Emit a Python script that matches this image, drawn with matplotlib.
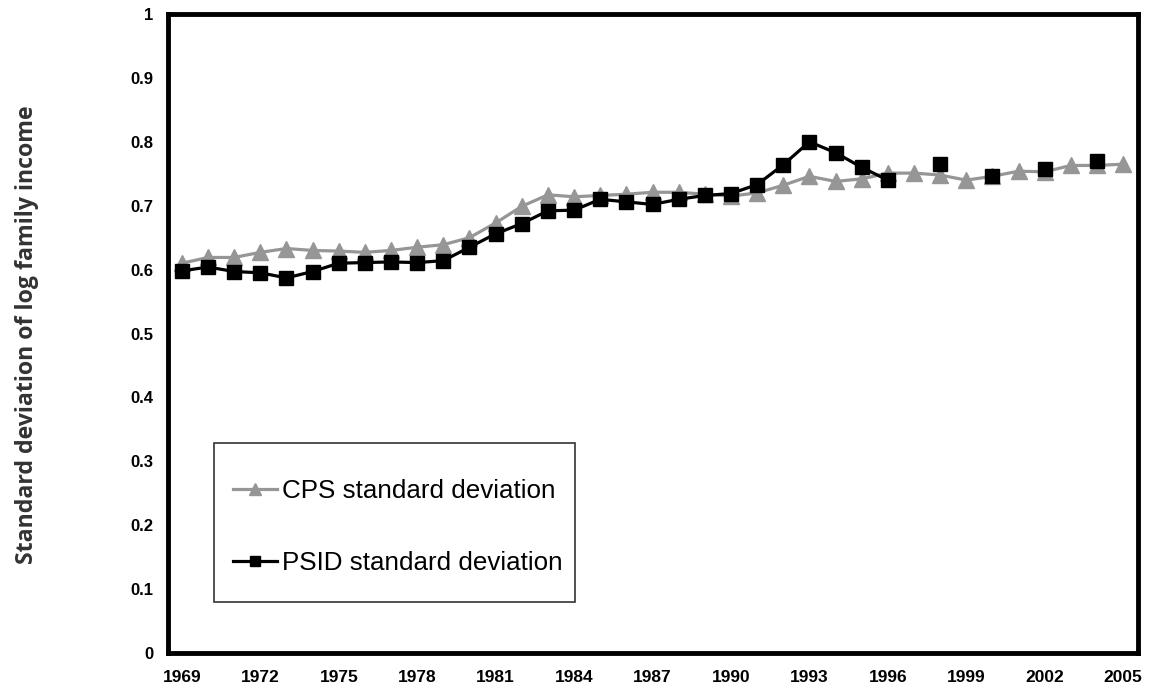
import numpy as np
import matplotlib
matplotlib.use("Agg")
import matplotlib.pyplot as plt
from matplotlib.patches import Rectangle

years = list(range(1969, 2006))
cps = [0.610, 0.619, 0.619, 0.627, 0.633, 0.630, 0.629, 0.627, 0.630, 0.635,
       0.639, 0.650, 0.673, 0.699, 0.717, 0.714, 0.716, 0.718, 0.721, 0.721,
       0.718, 0.715, 0.720, 0.732, 0.746, 0.738, 0.742, 0.751, 0.751, 0.748,
       0.740, 0.746, 0.754, 0.753, 0.763, 0.763, 0.765]
psid = [0.598, 0.604, 0.597, 0.595, 0.587, 0.597, 0.610, 0.611, 0.612, 0.611,
        0.614, 0.635, 0.656, 0.672, 0.692, 0.693, 0.710, 0.706, 0.702, 0.710,
        0.716, 0.719, 0.733, 0.764, 0.800, 0.783, 0.760, 0.740, np.nan, 0.766,
        np.nan, 0.746, np.nan, 0.757, np.nan, 0.770, np.nan]
xtick_years = list(range(1969, 2006, 3))
yticks = [0, 0.1, 0.2, 0.3, 0.4, 0.5, 0.6, 0.7, 0.8, 0.9, 1]
ytick_labels = ["0", "0.1", "0.2", "0.3", "0.4", "0.5", "0.6", "0.7", "0.8", "0.9", "1"]

W, H = 1151, 690
fig = plt.figure(figsize=(W/100, H/100), dpi=100)
L, R, T, B = 167.5, 1137.5, 14, 653
ax = fig.add_axes([L/W, 1 - B/H, (R-L)/W, (B-T)/H])

ax.plot(years, cps, color="#969696", lw=2.3, marker="^", ms=11, mec="#969696",
        mfc="#969696", label="CPS standard deviation", zorder=2)
ax.plot(years, psid, color="black", lw=2.3, marker="s", ms=9.5, mec="black",
        mfc="black", label="PSID standard deviation", zorder=3)

ax.set_xlim(1968.45, 2005.55)
ax.set_ylim(0, 1)
ax.set_xticks(xtick_years)
ax.set_xticklabels([str(y) for y in xtick_years], fontfamily="Liberation Sans",
                   fontweight="bold", fontsize=12.5)
ax.set_yticks(yticks)
ax.set_yticklabels(ytick_labels, fontfamily="Liberation Sans", fontweight="bold",
                   fontsize=12)
ax.tick_params(axis="x", length=0, pad=12)
ax.tick_params(axis="y", length=0, pad=10)
for s in ax.spines.values():
    s.set_linewidth(3.5)
    s.set_color("black")

fig.text(27/W, 1 - 335/H, "Standard deviation of log family income",
         rotation=90, va="center", ha="center", fontfamily="Open Sans",
         fontweight="bold", fontsize=16.7, color="#333333")

# legend frame
bx0, by0, bx1, by1 = 214, 443, 575, 602
fig.patches.append(Rectangle((bx0/W, 1 - by1/H), (bx1-bx0)/W, (by1-by0)/H,
                             transform=fig.transFigure, fill=False,
                             edgecolor="#333333", lw=1.2, zorder=5))
leg = ax.legend(loc="center left",
                bbox_to_anchor=((233-L)/(R-L), (B-527)/(B-T)),
                prop={"family": "Liberation Sans", "size": 18.7},
                frameon=False, borderaxespad=0, borderpad=0,
                labelspacing=1.85, handlelength=1.7,
                handletextpad=0.2, markerscale=0.75)

fig.savefig("out.png", dpi=100)
